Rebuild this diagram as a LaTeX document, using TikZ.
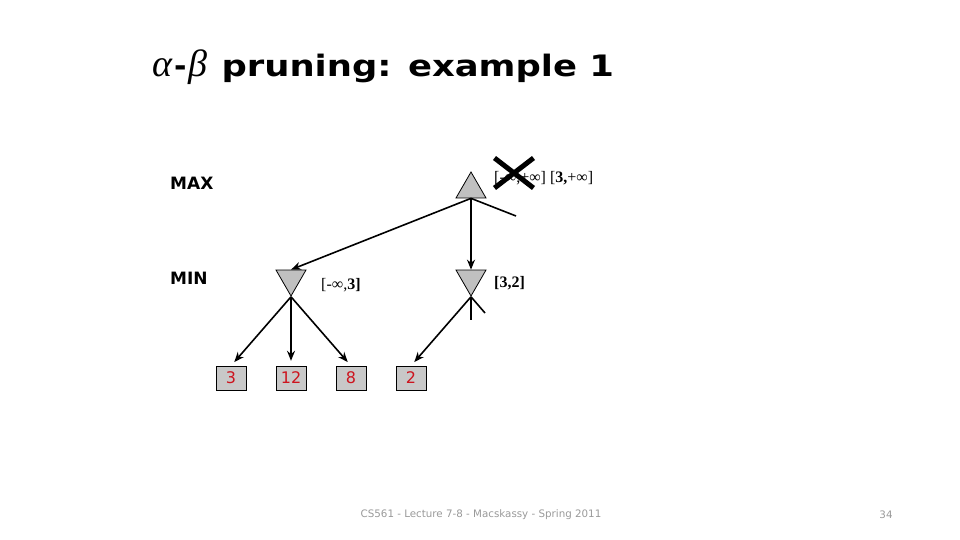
\documentclass[tikz,border=0pt]{standalone}
\usepackage{fontspec}
\setmainfont{Liberation Serif}
\newfontfamily\verd{DejaVu Sans}
\newfontfamily\titlefont[FakeStretch=1.2]{DejaVu Sans}
\usepackage{xcolor}
\usepackage{tikz}
\usetikzlibrary{arrows.meta,shapes.geometric,shapes.misc}
\definecolor{nodegray}{RGB}{192,192,192}
\definecolor{leafgray}{RGB}{200,200,200}
\definecolor{leafred}{RGB}{205,20,30}
\tikzset{
  maxnode/.style={regular polygon,regular polygon sides=3,draw,fill=nodegray,minimum size=34.6pt,inner sep=0pt,line width=0.8pt},
  minnode/.style={maxnode,shape border rotate=180},
  leaf/.style={draw,fill=leafgray,minimum width=30pt,minimum height=24pt,inner sep=0pt,text=leafred,font=\verd\fontsize{16}{16}\selectfont},
  bound/.style={anchor=west,inner sep=0pt,font=\fontsize{16}{16}\selectfont},
  level/.style={anchor=west,inner sep=0pt,font=\verd\bfseries\fontsize{17}{17}\selectfont},
  edge/.style={line width=1.6pt},
  arr/.style={edge,-{Stealth[length=10pt,width=8pt]}},
}

\begin{document}
\begin{tikzpicture}[x=1pt,y=-1pt]
  \useasboundingbox (0,0) rectangle (960,540);
  % title
  \node[anchor=west,inner sep=0pt] (title) at (152,67) {{\fontsize{38}{38}\selectfont\itshape α\kern2pt{\upshape\verd\bfseries\fontsize{30}{30}\selectfont-}\kern2pt β}\hspace{14pt}{\titlefont\bfseries\fontsize{29.5}{30}\selectfont pruning: example 1}};

  \node[level] (lmax) at (170,183) {MAX};
  \node[level] (lmin) at (170,278.5) {MIN};

  \node[maxnode] (max) at (471,189.3) {};
  \node[minnode] (minL) at (291,278.7) {};
  \node[minnode] (minR) at (471,278.7) {};

  \node[leaf] (l3) at (231,378) {3};
  \node[leaf] (l12) at (291,378) {12};
  \node[leaf] (l8) at (351,378) {8};
  \node[leaf] (l2) at (411,378) {2};

  \node[bound] (bmax) at (494,178) {[-∞,+∞] [\textbf{3,}+∞]};
  \node[draw,cross out,line width=5pt,minimum width=34pt,minimum height=25pt,inner sep=0pt] (xout) at (514,173) {};
  \node[bound] (bminL) at (321,285) {[-∞,\textbf{3]}};
  \node[bound] (bminR) at (494,283) {\textbf{[3,2]}};

  % pruned branches
  \coordinate (cutM) at (516,216);
  \coordinate (cutV) at (471,320);
  \coordinate (cutR) at (485,313);

  \draw[arr] (max.south)--(minL.north);
  \draw[arr] (max.south)--(minR.north);
  \draw[edge] (max.south)--(cutM);
  \draw[arr,shorten >=5pt] (minL.south)--(l3.north);
  \draw[arr,shorten >=5pt] (minL.south)--(l12.north);
  \draw[arr,shorten >=5pt] (minL.south)--(l8.north);
  \draw[arr,shorten >=5pt] (minR.south)--(l2.north);
  \draw[edge] (minR.south)--(cutV);
  \draw[edge] (minR.south)--(cutR);

  \node[text=black!40,font=\verd\fontsize{10.3}{10.3}\selectfont] (foot) at (481,515) {CS561 - Lecture 7-8 - Macskassy - Spring 2011};
  \node[text=black!40,font=\verd\fontsize{10.3}{10.3}\selectfont] (page) at (886,515) {34};
\end{tikzpicture}
\end{document}
